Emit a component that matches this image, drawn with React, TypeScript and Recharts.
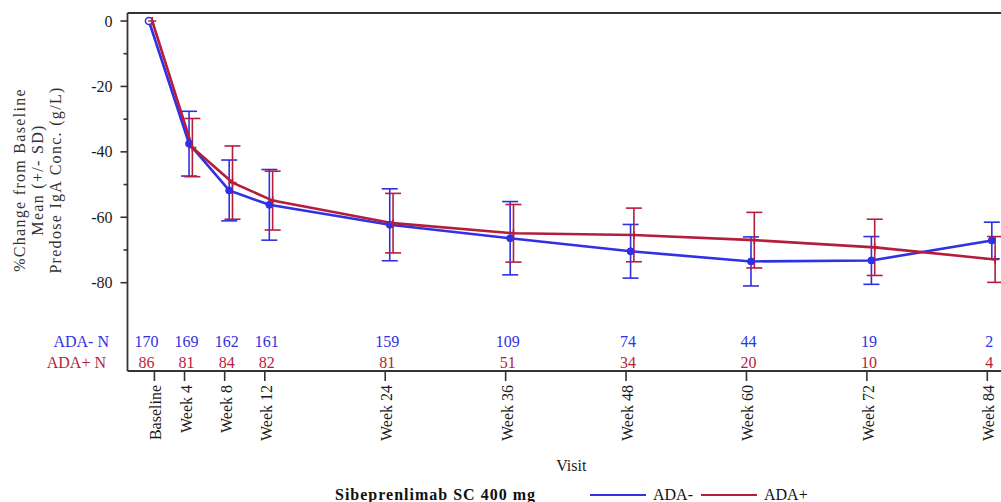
import React from 'react';
import { LineChart, Line, XAxis, YAxis, ErrorBar, Legend } from 'recharts';

// Visits: nominal week used for plotting, and the week at which each axis label sits
const visitLabels = ['Baseline', 'Week 4', 'Week 8', 'Week 12', 'Week 24', 'Week 36', 'Week 48', 'Week 60', 'Week 72', 'Week 84'];
const visitWeeks = [0, 4, 8, 12, 24, 36, 48, 60, 72, 84];
const labelWeeks = [1, 4, 8, 12, 24, 36, 48, 60, 72, 84];

// Groups, in legend order
const groupNames = ['ADA-', 'ADA+'];

// % change from baseline in predose IgA, mean and SD, by ADA status
const adaNegMean = [0, -37.5, -51.8, -56.2, -62.3, -66.4, -70.4, -73.5, -73.2, -67.1];
const adaNegSd = [null, 9.9, 9.3, 10.8, 11.0, 11.2, 8.2, 7.5, 7.3, 5.6];
const adaPosMean = [0, -38.7, -49.4, -54.9, -61.8, -64.9, -65.4, -67.0, -69.2, -72.9];
const adaPosSd = [null, 8.9, 11.2, 9.0, 9.1, 8.8, 8.2, 8.5, 8.6, 7.0];

// Subjects with data at each visit
const adaNegN = [170, 169, 162, 161, 159, 109, 74, 44, 19, 2];
const adaPosN = [86, 81, 84, 82, 81, 51, 34, 20, 10, 4];

const yTicks = [0, -10, -20, -30, -40, -50, -60, -70, -80];
const yLabelEvery = 20;

const BLUE = '#3030e4';
const RED = '#b41e3c';
const AXIS = '#333333';
const FONT = '"Liberation Serif", "Times New Roman", serif';

const X_DOMAIN: [number, number] = [-1.684, 86.76];
const NEG_SHIFT = 0.45; // cluster offset of the ADA- group, in weeks
const POS_SHIFT = 0.78; // cluster offset of the ADA+ group, in weeks
const PLOT_BOTTOM = 371;

const rows = visitWeeks.map((w, i) => ({
  week: w,
  neg: adaNegMean[i],
  negSd: adaNegSd[i],
  pos: adaPosMean[i],
  posSd: adaPosSd[i],
}));

const VisitTick = (props: any) => {
  const { x, y, payload } = props;
  const i = labelWeeks.indexOf(payload.value);
  return (
    <g>
      <line x1={x} x2={x} y1={y} y2={y + 10} stroke={AXIS} strokeWidth={1.6} />
      <text
        transform={`translate(${x + 7},${y + 14}) rotate(-90)`}
        textAnchor="end"
        fontFamily={FONT}
        fontSize={16}
        fill="#1a1a1a"
      >
        {visitLabels[i]}
      </text>
    </g>
  );
};

// At-risk table rows sit just above the bottom axis line
const CountTick = (props: any) => {
  const { x, payload } = props;
  const i = visitWeeks.indexOf(payload.value);
  const y = PLOT_BOTTOM;
  return (
    <g fontFamily={FONT} fontSize={16}>
      {i === 0 && (
        <>
          <text x={109} y={y - 24} textAnchor="end" fill={BLUE}>ADA- N</text>
          <text x={106} y={y - 3.5} textAnchor="end" fill={RED}>ADA+ N</text>
        </>
      )}
      <text x={x + 2} y={y - 24} textAnchor="middle" fill={BLUE}>{adaNegN[i]}</text>
      <text x={x + 2} y={y - 3.5} textAnchor="middle" fill={RED}>{adaPosN[i]}</text>
    </g>
  );
};

const ValueTick = (props: any) => {
  const { x, y, payload } = props;
  const major = payload.value % yLabelEvery === 0;
  return (
    <g>
      <line x1={x - (major ? 7 : 4)} x2={x} y1={y} y2={y} stroke={AXIS} strokeWidth={1.6} />
      {major && (
        <text x={x - 15} y={y + 5.5} textAnchor="end" fontFamily={FONT} fontSize={16} fill="#1a1a1a">
          {payload.value}
        </text>
      )}
    </g>
  );
};

const YTitle = () => {
  const lines = ['%Change from Baseline', 'Mean (+/- SD)', 'Predose IgA Conc. (g/L)'];
  return (
    <g fontFamily={FONT} fontSize={16} fill="#333" letterSpacing={1.3}>
      {lines.map((t, k) => (
        <text key={k} transform={`translate(${25 + k * 18},180) rotate(-90)`} textAnchor="middle">
          {t}
        </text>
      ))}
    </g>
  );
};

const XTitle = (props: any) => {
  const vb = props.viewBox || {};
  return (
    <text x={vb.x + vb.width / 2} y={vb.y + 100} textAnchor="middle" fontFamily={FONT} fontSize={16} fill="#1a1a1a">
      Visit
    </text>
  );
};

const NegDot = (props: any) => {
  const { cx, cy, index } = props;
  if (cx == null || cy == null) return <g key={`n${index}`} />;
  return index === 0 ? (
    <circle key={`n${index}`} cx={cx} cy={cy} r={3.5} fill="#fff" stroke={BLUE} strokeWidth={1.5} />
  ) : (
    <circle key={`n${index}`} cx={cx} cy={cy} r={3.5} fill={BLUE} stroke={BLUE} strokeWidth={1} />
  );
};

const PosDot = (props: any) => {
  const { cx, cy, index } = props;
  if (cx == null || cy == null) return <g key={`p${index}`} />;
  return (
    <g key={`p${index}`} stroke={RED} strokeWidth={1.6}>
      <line x1={cx - 4} x2={cx + 4} y1={cy} y2={cy} />
      <line x1={cx} x2={cx} y1={cy - 4} y2={cy + 4} />
    </g>
  );
};

const LegendBox = (props: any) => {
  const payload = [...(props.payload || [])].sort(
    (a: any, b: any) => groupNames.indexOf(a.value) - groupNames.indexOf(b.value)
  );
  return (
    <div style={{ position: 'relative', width: 0, height: 0 }}>
      <div
        style={{
          position: 'absolute', left: 335, top: 486, whiteSpace: 'nowrap',
          fontFamily: FONT, fontWeight: 'bold', fontSize: 16, lineHeight: '18px',
          letterSpacing: 1.0, color: '#111',
        }}
      >
        Sibeprenlimab SC 400 mg
      </div>
      <div
        style={{
          position: 'absolute', left: 590, top: 486, display: 'flex', alignItems: 'center',
          whiteSpace: 'nowrap', fontFamily: FONT, fontSize: 16, lineHeight: '18px', color: '#111',
        }}
      >
        {payload.map((p: any) => (
          <span key={p.value} style={{ display: 'flex', alignItems: 'center' }}>
            <span style={{ display: 'inline-block', width: 56, height: 0, borderTop: `2.6px solid ${p.color}` }} />
            <span style={{ marginLeft: 7, marginRight: 8 }}>{p.value}</span>
          </span>
        ))}
      </div>
    </div>
  );
};

export default function App() {
  return (
    <div style={{ position: 'absolute', left: 0, top: 0, width: 1001, height: 502, overflow: 'hidden', background: '#fff' }}>
      <LineChart
        width={1025}
        height={502}
        data={rows}
        margin={{ top: 13, right: 10, bottom: 0, left: 0 }}
      >
        <XAxis
          xAxisId="count"
          dataKey="week"
          type="number"
          domain={X_DOMAIN}
          allowDataOverflow
          ticks={visitWeeks}
          interval={0}
          tick={<CountTick />}
          tickLine={false}
          tickSize={0}
          tickMargin={0}
          height={2}
          mirror
          axisLine={false}
        />
        <XAxis
          xAxisId="visit"
          dataKey="week"
          type="number"
          domain={X_DOMAIN}
          allowDataOverflow
          ticks={labelWeeks}
          interval={0}
          tick={<VisitTick />}
          tickLine={false}
          tickSize={0}
          tickMargin={0}
          height={131}
          axisLine={{ stroke: AXIS, strokeWidth: 1.8 }}
          label={<XTitle />}
        />
        <XAxis
          xAxisId="frame"
          orientation="top"
          type="number"
          domain={X_DOMAIN}
          allowDataOverflow
          tick={false}
          tickLine={false}
          height={2}
          mirror
          axisLine={{ stroke: AXIS, strokeWidth: 1.8 }}
        />
        <XAxis
          xAxisId="neg"
          dataKey="week"
          type="number"
          domain={[X_DOMAIN[0] - NEG_SHIFT, X_DOMAIN[1] - NEG_SHIFT]}
          allowDataOverflow
          height={0}
          hide
        />
        <XAxis
          xAxisId="pos"
          dataKey="week"
          type="number"
          domain={[X_DOMAIN[0] - POS_SHIFT, X_DOMAIN[1] - POS_SHIFT]}
          allowDataOverflow
          height={0}
          hide
        />
        <YAxis
          type="number"
          domain={[-107, 2.45]}
          allowDataOverflow
          ticks={yTicks}
          interval={0}
          tick={<ValueTick />}
          tickLine={false}
          tickSize={0}
          tickMargin={0}
          width={127.5}
          axisLine={{ stroke: AXIS, strokeWidth: 1.8 }}
          label={<YTitle />}
        />
        <Legend
          content={<LegendBox />}
          wrapperStyle={{ left: 0, top: 0, bottom: 'auto', width: 0, height: 0, margin: 0 }}
        />
        <Line
          xAxisId="neg"
          name="ADA-"
          dataKey="neg"
          stroke={BLUE}
          strokeWidth={2.6}
          dot={(p: any) => <NegDot {...p} key={`n${p.index}`} />}
          isAnimationActive={false}
          legendType="line"
        >
          <ErrorBar dataKey="negSd" direction="y" width={8} stroke={BLUE} strokeWidth={1.6} />
        </Line>
        <Line
          xAxisId="pos"
          name="ADA+"
          dataKey="pos"
          stroke={RED}
          strokeWidth={2.6}
          dot={(p: any) => <PosDot {...p} key={`p${p.index}`} />}
          isAnimationActive={false}
          legendType="line"
        >
          <ErrorBar dataKey="posSd" direction="y" width={8} stroke={RED} strokeWidth={1.6} />
        </Line>
      </LineChart>
    </div>
  );
}
